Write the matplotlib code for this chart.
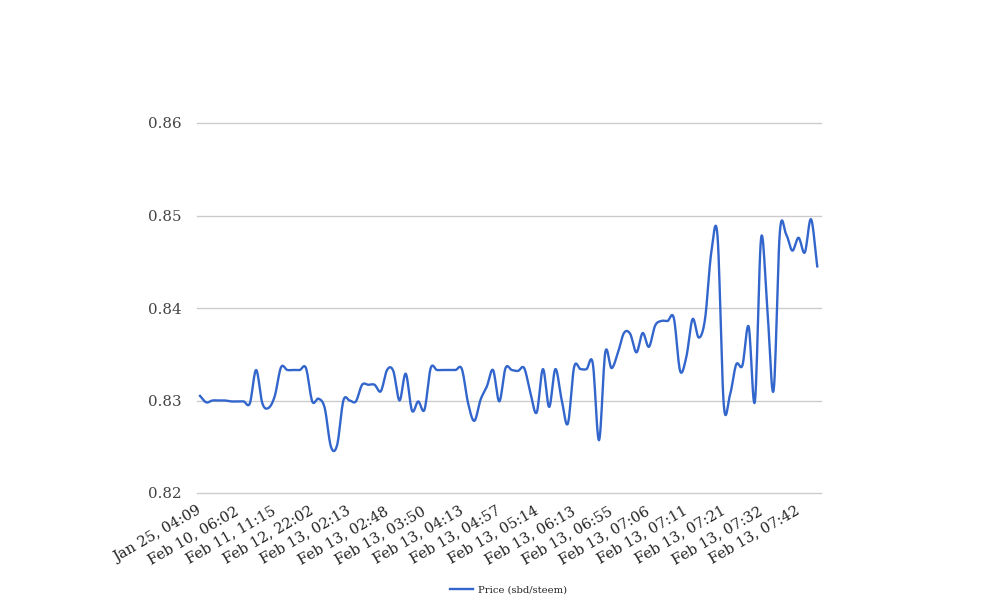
import numpy as np
import matplotlib
matplotlib.use("Agg")
import matplotlib.pyplot as plt

# price readings, one per trade
prices = [
    0.8305, 0.8298, 0.8300, 0.8300, 0.8300, 0.8299, 0.8299, 0.8299, 0.8297, 0.8333,
    0.8297, 0.8292, 0.8305, 0.8336, 0.8333, 0.8333, 0.8333, 0.8335, 0.8299, 0.8302,
    0.8292, 0.8250, 0.8252, 0.8300, 0.8300, 0.8299, 0.8317, 0.8317, 0.8317, 0.8310,
    0.8333, 0.8332, 0.8300, 0.8329, 0.8289, 0.8299, 0.8290, 0.8335, 0.8333, 0.8333,
    0.8333, 0.8333, 0.8334, 0.8297, 0.8278, 0.8301, 0.8315, 0.8333, 0.8299, 0.8335,
    0.8333, 0.8332, 0.8335, 0.8308, 0.8287, 0.8334, 0.8293, 0.8334, 0.8301, 0.8275,
    0.8336, 0.8334, 0.8334, 0.8340, 0.8257, 0.8352, 0.8335, 0.8351, 0.8373, 0.8372,
    0.8352, 0.8373, 0.8358, 0.8381, 0.8386, 0.8386, 0.8389, 0.8332, 0.8347, 0.8388,
    0.8368, 0.8388, 0.8460, 0.8478, 0.8296, 0.8306, 0.8339, 0.8338, 0.8380, 0.8299,
    0.8476, 0.8398, 0.8311, 0.8482, 0.8480, 0.8462, 0.8476, 0.8460, 0.8496, 0.8445,
]

tick_labels = [
    "Jan 25, 04:09", "Feb 10, 06:02", "Feb 11, 11:15", "Feb 12, 22:02",
    "Feb 13, 02:13", "Feb 13, 02:48", "Feb 13, 03:50", "Feb 13, 04:13",
    "Feb 13, 04:57", "Feb 13, 05:14", "Feb 13, 06:13", "Feb 13, 06:55",
    "Feb 13, 07:06", "Feb 13, 07:11", "Feb 13, 07:21", "Feb 13, 07:32",
    "Feb 13, 07:42",
]
label_step = 6
y_ticks = [0.82, 0.83, 0.84, 0.85, 0.86]


def smooth_curve(x, y, samples=12):
    """Catmull-Rom spline through the points, like a 'function' curve."""
    x = np.asarray(x, dtype=float)
    y = np.asarray(y, dtype=float)
    px = np.concatenate([[2 * x[0] - x[1]], x, [2 * x[-1] - x[-2]]])
    py = np.concatenate([[2 * y[0] - y[1]], y, [2 * y[-1] - y[-2]]])
    t = np.linspace(0, 1, samples, endpoint=False)
    xs, ys = [], []
    for i in range(1, len(px) - 2):
        for p, out in ((px, xs), (py, ys)):
            p0, p1, p2, p3 = p[i - 1], p[i], p[i + 1], p[i + 2]
            out.append(0.5 * ((2 * p1) + (-p0 + p2) * t
                              + (2 * p0 - 5 * p1 + 4 * p2 - p3) * t ** 2
                              + (-p0 + 3 * p1 - 3 * p2 + p3) * t ** 3))
    xs.append([x[-1]])
    ys.append([y[-1]])
    return np.concatenate(xs), np.concatenate(ys)


plt.rcParams['font.family'] = ['DejaVu Serif']

fig = plt.figure(figsize=(10.08, 6.16), dpi=100)
ax = fig.add_axes([197 / 1008, 1 - 493 / 616, 624 / 1008, 370 / 616])

x = np.arange(len(prices))
sx, sy = smooth_curve(x, prices)
ax.plot(sx, sy, color='#3366cc', linewidth=1.7, label='Price (sbd/steem)')

ax.set_ylim(0.82, 0.86)
ax.set_xlim(-0.48, len(prices) - 1 + 0.6)
ax.set_yticks(y_ticks)
ax.set_yticklabels([f"{v:.2f}" for v in y_ticks])
ax.yaxis.grid(True, color='#cccccc', linewidth=1)
for gl in ax.get_ygridlines():
    gl.set_clip_on(False)
ax.set_axisbelow(True)
for s in ax.spines.values():
    s.set_visible(False)

ax.set_xticks(x[::label_step][:len(tick_labels)])
ax.set_xticklabels(tick_labels, rotation=30, ha='right', va='center',
                   rotation_mode='anchor')
ax.tick_params(axis='x', length=0, pad=12, labelsize=10.5, labelcolor='#222222')
ax.tick_params(axis='y', length=0, pad=11, labelsize=10.8, labelcolor='#444444')

fig.legend(loc='center', bbox_to_anchor=(0.505, 1 - 590 / 616), frameon=False,
           fontsize=7.2, handlelength=2.3, handletextpad=0.5,
           labelcolor='#222222')

fig.savefig('out.png', dpi=100)
